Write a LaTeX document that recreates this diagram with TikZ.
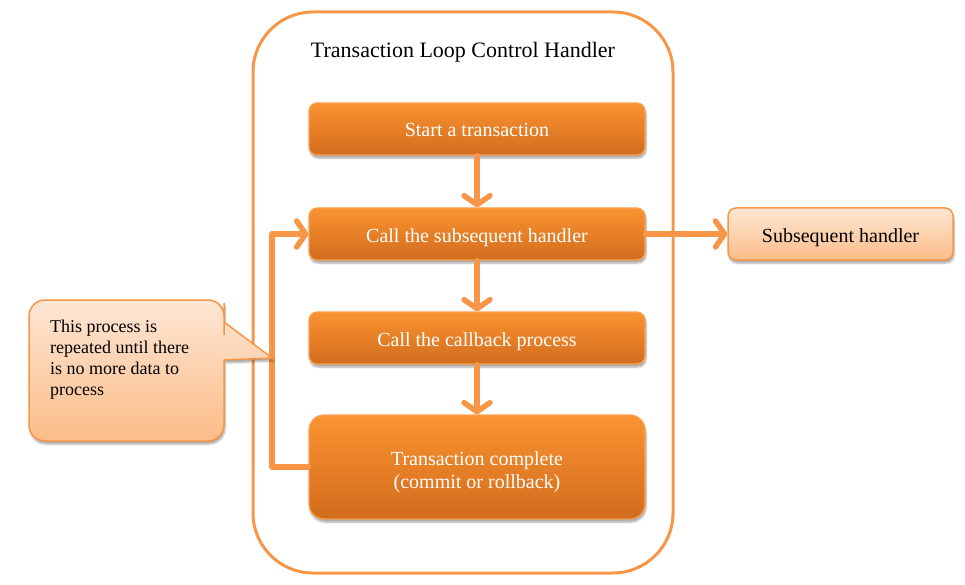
\documentclass[tikz,border=0pt]{standalone}
\usepackage{fontspec}
\setmainfont{Liberation Serif}
\usetikzlibrary{arrows.meta,shadows.blur}
\definecolor{ora}{HTML}{F79646}
\definecolor{boxtop}{HTML}{FA9330}
\definecolor{boxbot}{HTML}{D26C1E}
\definecolor{boxedge}{HTML}{F9A052}
\definecolor{peachtop}{HTML}{FDE6D4}
\definecolor{peachbot}{HTML}{FBBD88}
\tikzset{
  boxshadow/.style={blur shadow={shadow blur steps=6, shadow xshift=1pt, shadow yshift=-3pt, shadow opacity=35}},
  stepbox/.style={rectangle, rounded corners=8pt, minimum width=336pt, minimum height=52pt,
    top color=boxtop, bottom color=boxbot, draw=boxedge, line width=1.2pt,
    text=white, font=\fontsize{20}{23}\selectfont, align=center,
    text height=18pt, text depth=2pt, boxshadow},
  peachbox/.style={rectangle, rounded corners=8pt, minimum width=225pt, minimum height=52pt,
    top color=peachtop, bottom color=peachbot, draw=ora, line width=1.5pt,
    text=black, font=\fontsize{20}{23}\selectfont,
    text height=18pt, text depth=2pt, boxshadow},
  arr/.style={draw=ora, line width=5.5pt, line cap=round, line join=round,
    -{Straight Barb[length=9pt, width=26pt, round]}},
}
\begin{document}
\begin{tikzpicture}[x=1pt,y=-1pt]
\useasboundingbox (0,0) rectangle (965,585);
% outer container
\node[draw=ora, line width=3pt, rounded corners=60pt, minimum width=420pt, minimum height=561pt, inner sep=0pt] (outer) at (463,292.5) {};
\node[font=\fontsize{22}{26}\selectfont] (title) at (463,52) {Transaction Loop Control Handler};
% boxes
\node[stepbox] (b1) at (477,129) {Start a transaction};
\node[stepbox] (b2) at (477,234) {Call the subsequent handler};
\node[stepbox] (b3) at (477,338) {Call the callback process};
\node[stepbox, minimum height=104pt, rounded corners=15pt, text height=, text depth=] (b4) at (477,467)
  {\rule{0pt}{24pt}Transaction complete\\(commit or rollback)};
\node[peachbox] (sub) at (840.5,234) {Subsequent handler};
% arrows
\draw[arr] (b1.south) -- (b2.north);
\draw[arr] (b2.south) -- (b3.north);
\draw[arr] (b3.south) -- (b4.north);
\draw[arr] (b2.east) -- (sub.west);
\coordinate (lp) at (272,0);
\draw[arr] (b4.west) -- (b4.west -| lp) |- (b2.west);
% callout
\path[top color=peachtop, bottom color=peachbot, draw=ora, line width=1.5pt, boxshadow]
  (126,441) [rounded corners=16pt] -- (29,441) -- (29,300) -- (224,300) -- (224,319)
  [sharp corners] -- (224,322) -- (272,358) -- (224,360) -- (224,380)
  [rounded corners=16pt] -- (224,441) -- cycle;
\node[anchor=north west, align=left, inner sep=0pt, font=\fontsize{18}{21}\selectfont] (ctext) at (50,320)
  {This process is\\repeated until there\\is no more data to\\process};
\end{tikzpicture}
\end{document}
